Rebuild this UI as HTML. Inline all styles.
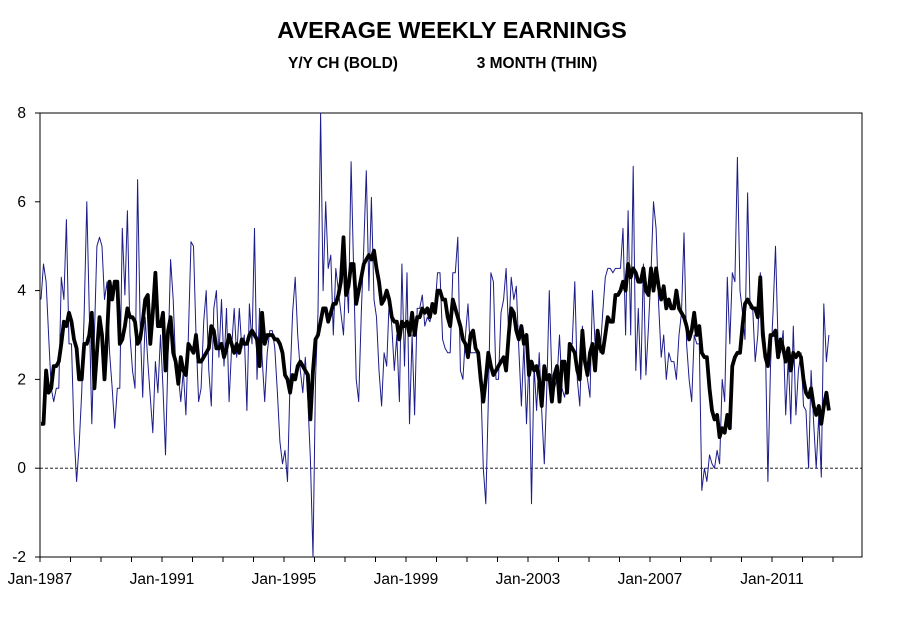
<!DOCTYPE html>
<html><head><meta charset="utf-8">
<style>
html,body{margin:0;padding:0;background:#fff;}
body{width:903px;height:615px;overflow:hidden;font-family:"Liberation Sans",Arial,sans-serif;}
svg text{font-family:"Liberation Sans",Arial,sans-serif;}
</style></head>
<body>
<svg id="chart" width="903" height="615" viewBox="0 0 903 615" xmlns="http://www.w3.org/2000/svg">
<text x="452" y="38" text-anchor="middle" font-size="23.5" font-weight="bold" fill="#000">AVERAGE WEEKLY EARNINGS</text>
<text x="343" y="68" text-anchor="middle" font-size="15.5" font-weight="bold" fill="#000">Y/Y CH (BOLD)</text>
<text x="537" y="68" text-anchor="middle" font-size="15.5" font-weight="bold" fill="#000">3 MONTH (THIN)</text>
<g id="axes"></g>
<g id="series"></g>
</svg>
<script>
const yTicks=[8,6,4,2,0,-2];
const xLabels=["Jan-1987","Jan-1991","Jan-1995","Jan-1999","Jan-2003","Jan-2007","Jan-2011"];
const startYear=1987;
const thinValues=[3.8,4.6,4.2,3.0,1.8,1.5,1.8,1.8,4.3,3.8,5.6,2.8,2.8,0.8,-0.3,0.5,1.7,3.5,6.0,3.5,1.0,3.0,5.0,5.2,5.0,3.8,4.2,2.6,1.8,0.9,1.8,1.8,5.4,3.9,5.8,3.0,2.2,1.8,6.5,3.3,1.6,3.4,2.4,1.6,0.8,2.4,1.7,3.0,1.8,0.3,2.6,4.7,3.8,2.3,2.1,1.5,2.2,1.2,3.0,5.1,5.0,3.0,1.5,1.8,3.3,4.0,2.2,1.4,3.6,4.0,2.5,3.8,2.3,3.6,1.5,2.7,3.6,2.5,3.6,2.7,3.0,1.3,3.7,2.8,5.4,2.0,3.6,2.5,1.5,2.6,3.1,3.1,2.7,1.7,0.6,0.1,0.4,-0.3,2.0,3.5,4.3,3.0,2.2,1.7,2.5,1.5,0.2,-2.0,2.0,3.5,8.0,4.0,6.0,4.5,4.8,3.0,4.5,4.0,3.5,3.0,4.5,3.5,6.9,4.5,2.0,1.5,3.5,5.0,6.7,4.0,6.1,3.8,3.4,2.2,1.4,2.6,2.3,3.8,3.2,2.2,3.0,1.5,4.6,2.3,4.4,1.0,3.0,1.2,3.6,3.6,3.9,3.2,3.4,3.3,3.6,3.6,4.4,4.4,2.9,2.7,
2.6,2.6,4.4,4.4,5.2,2.2,2.0,3.0,3.7,2.6,2.6,2.6,2.6,2.0,0.0,-0.8,1.5,4.4,4.2,2.0,2.0,3.5,3.8,4.5,3.0,4.3,3.8,4.1,2.7,1.4,2.8,1.0,2.5,-0.8,2.3,1.3,2.6,1.3,0.1,1.8,4.0,2.0,1.8,2.0,3.0,1.8,1.6,2.0,2.8,2.8,4.2,2.0,1.4,3.2,2.4,2.0,1.6,4.0,2.8,2.8,2.6,3.5,4.3,4.5,4.5,4.4,4.5,4.5,4.5,5.4,3.0,5.8,3.0,6.8,2.2,3.6,2.0,4.6,2.1,3.2,4.4,6.0,5.4,3.7,2.5,3.0,2.0,2.6,2.4,2.4,2.0,3.0,3.5,5.3,2.8,2.0,1.5,3.0,2.8,2.8,-0.5,0.0,-0.3,0.3,0.1,0.0,0.4,0.1,2.0,1.5,4.3,2.8,4.4,4.2,7.0,4.0,3.5,2.9,6.2,3.6,3.6,2.4,3.0,4.4,3.4,2.8,-0.3,2.3,3.5,5.0,2.8,2.6,3.1,1.2,2.5,1.0,3.2,1.2,2.2,2.6,1.4,1.3,0.0,2.2,1.0,0.0,1.2,-0.2,3.7,2.4,3.0];
const boldValues=[1.0,1.0,2.2,1.7,1.8,2.3,2.3,2.4,2.8,3.3,3.2,3.5,3.3,2.9,2.7,2.0,2.0,2.8,2.8,3.0,3.5,1.8,2.6,3.4,3.0,2.0,3.0,4.2,3.8,4.2,4.2,2.8,2.9,3.2,3.6,3.4,3.4,3.3,2.8,2.9,3.3,3.8,3.9,2.8,3.5,4.4,3.2,3.2,3.5,2.2,3.1,3.4,2.6,2.4,1.9,2.5,2.2,2.1,2.8,2.7,2.6,3.0,2.4,2.4,2.5,2.6,2.7,3.2,3.1,2.7,
2.7,2.8,2.5,2.7,3.0,2.8,2.6,2.8,2.6,2.9,2.8,2.8,3.0,3.1,3.0,2.9,2.3,3.5,2.8,3.0,3.0,3.0,2.9,2.9,
2.8,2.6,2.1,2.0,1.7,2.1,2.0,2.3,2.4,2.3,2.2,2.1,1.1,2.2,2.9,3.0,3.3,3.6,3.6,3.3,3.5,3.7,3.7,3.9,4.2,5.2,3.9,4.1,4.6,4.6,3.7,4.0,4.3,4.6,4.7,4.8,4.7,4.9,4.5,4.2,3.7,3.8,4.0,3.8,3.4,3.3,3.3,2.9,3.3,3.2,3.3,3.0,3.5,3.0,3.4,3.4,3.6,3.5,3.6,3.4,3.7,3.5,4.0,4.0,3.8,3.8,
3.4,3.2,3.8,3.6,3.4,3.2,2.9,2.8,2.5,3.0,3.1,2.7,2.6,2.0,1.5,2.0,2.6,2.3,2.1,2.2,2.3,2.4,2.5,2.2,3.0,3.6,3.5,3.1,2.9,3.2,2.8,3.0,2.1,2.4,2.2,2.3,2.0,1.4,2.3,2.0,2.1,1.5,2.1,2.3,1.5,2.4,2.4,1.7,2.8,2.7,2.6,2.2,2.0,3.1,2.4,2.1,2.6,2.8,2.2,3.1,2.7,2.6,3.0,3.4,3.3,3.3,3.9,3.9,4.0,4.2,4.0,4.6,4.3,4.5,4.4,4.2,4.2,4.5,4.0,3.9,4.5,4.0,4.5,4.1,3.8,4.1,3.6,3.8,3.6,3.6,4.0,3.6,3.5,3.4,3.2,2.9,3.1,3.5,3.0,3.2,2.6,2.5,2.5,1.8,1.3,1.1,1.2,0.7,0.9,0.8,1.2,0.9,2.3,2.5,2.6,2.6,3.2,3.7,3.8,3.7,3.6,3.6,3.4,4.3,3.0,2.5,2.3,3.0,3.0,3.1,2.5,2.9,2.7,2.4,2.7,2.2,2.6,2.5,2.6,2.5,2.0,1.7,1.6,1.8,1.4,1.2,1.4,1.0,1.4,1.7,1.3];

const NS="http://www.w3.org/2000/svg";
const L=40,R=862,T=113,B=557,yMin=-2,yMax=8;
const yearW=30.5;
function yScale(v){return B-(v-yMin)/(yMax-yMin)*(B-T);}
function xMonth(i){return L+1+i*(yearW/12);}
function mk(tag,attrs,parent){const e=document.createElementNS(NS,tag);for(const k in attrs)e.setAttribute(k,attrs[k]);parent.appendChild(e);return e;}
const ax=document.getElementById('axes');
let e;
e=mk('rect',{x:L,y:T,width:R-L,height:B-T,fill:'none',stroke:'#000','stroke-width':1},ax);


e=mk('line',{x1:L,x2:R,y1:yScale(0),y2:yScale(0),stroke:'#000','stroke-width':0.8,'stroke-dasharray':'3,2'},ax);


yTicks.forEach(v=>{
  const y=yScale(v);
  const t=mk('line',{x1:L-5,x2:L,y1:y,y2:y,stroke:'#000'},ax);
  
  
  const tx=mk('text',{x:26,y:y+5,'text-anchor':'end','font-size':15.5,fill:'#000'},ax);
  tx.textContent=v;
  
  
});
for(let k=0;k<=26;k++){
  const x=L+k*yearW;
  const t=mk('line',{x1:x,x2:x,y1:B,y2:B+5,stroke:'#000'},ax);
  
  
}
xLabels.forEach((lab,j)=>{
  const x=L+j*4*yearW;
  const tx=mk('text',{x:x,y:584,'text-anchor':'middle','font-size':15.5,fill:'#000'},ax);
  tx.textContent=lab;
  
  
});
const sg=document.getElementById('series');
function path(vals){return vals.map((v,i)=>(i?'L':'M')+xMonth(i).toFixed(1)+','+yScale(v).toFixed(1)).join('');}
const thin=mk('path',{d:path(thinValues),fill:'none',stroke:'#1c1c8a','stroke-width':1,'stroke-linejoin':'round'},sg);


const bold=mk('path',{d:path(boldValues),fill:'none',stroke:'#000','stroke-width':3.8,'stroke-linejoin':'round'},sg);


</script>
</body></html>
